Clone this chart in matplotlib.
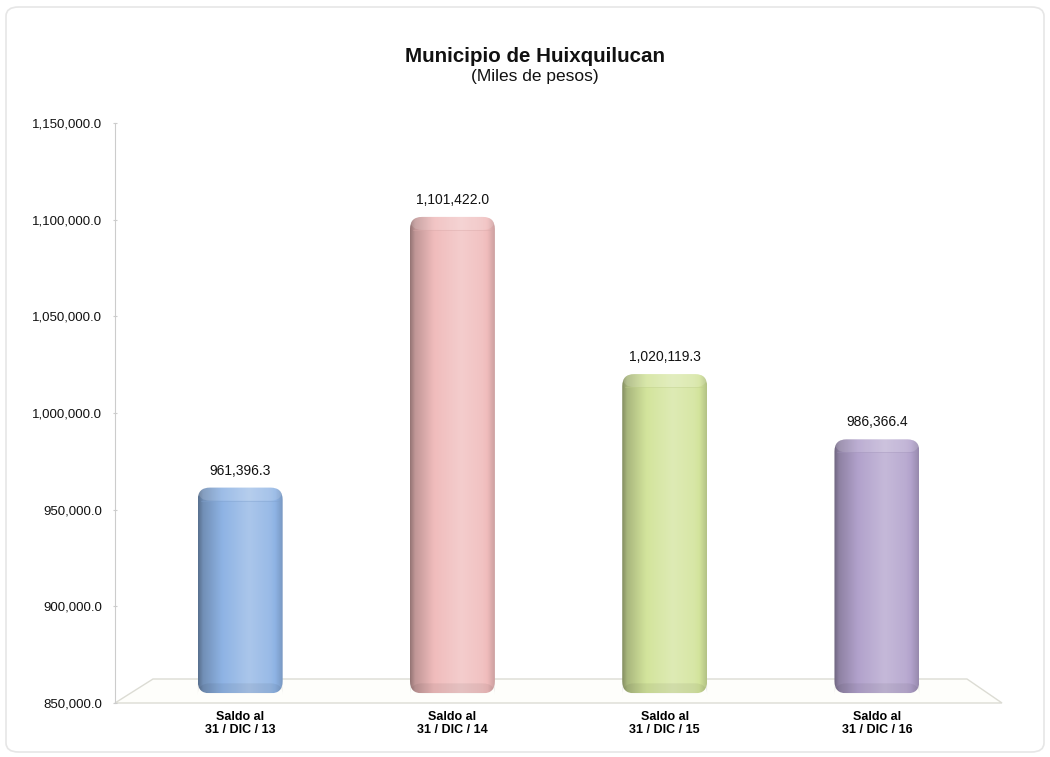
import numpy as np
import matplotlib
matplotlib.use('Agg')
from matplotlib import pyplot as plt
from matplotlib.patches import FancyBboxPatch, Polygon
from matplotlib.colors import to_rgb
from matplotlib.ticker import FuncFormatter

plt.rcParams['font.family'] = ['Liberation Sans', 'DejaVu Sans']

# data
categories = ['Saldo al\n31 / DIC / 13', 'Saldo al\n31 / DIC / 14',
              'Saldo al\n31 / DIC / 15', 'Saldo al\n31 / DIC / 16']
saldos = [961396.3, 1101422.0, 1020119.3, 986366.4]
bar_colors = ['#8eb3e4', '#f0bcbc', '#d3e49c', '#b2a2cc']
y_ticks = [850000, 900000, 950000, 1000000, 1050000, 1100000, 1150000]

Y_MIN, Y_MAX = 850000, 1150000
FLOOR = 855000  # where the cylinders stand on the 3d floor


def shade(color, f):
    c = np.array(to_rgb(color))
    if f < 0:
        return c * (1 + f)
    return c + (1 - c) * f


def cylinder_gradient(color, n=200):
    # horizontal shading: darker left edge, highlight right of centre
    t = np.linspace(0, 1, n)
    f = np.interp(t, [0, 0.06, 0.25, 0.6, 0.85, 1.0],
                  [-0.38, -0.2, -0.03, 0.25, 0.1, -0.15])
    return np.array([shade(color, v) for v in f])[np.newaxis, :, :]


fig = plt.figure(figsize=(10.5, 7.57), dpi=100)
ax = fig.add_axes([115 / 1050, 54 / 757, 885 / 1050, 580 / 757])

x = np.arange(len(categories))
bars = ax.bar(x, np.array(saldos) - FLOOR, bottom=FLOOR, width=0.4, visible=False)

ax.set_xlim(-0.59, 3.58)
ax.set_ylim(Y_MIN, Y_MAX)

# data units per pixel, to make round corners look round
y_per_px = (Y_MAX - Y_MIN) / 580
x_per_px = (3.58 + 0.59) / 885
aspect = y_per_px / x_per_px

# 3d floor
fx0, fx1 = ax.get_xlim()
floor_top = Y_MIN + 24 * y_per_px
floor = Polygon([(fx0, Y_MIN), (fx0 + 38 * x_per_px, floor_top),
                 (fx1 - 33 * x_per_px, floor_top), (fx1 + 2 * x_per_px, Y_MIN)],
                closed=True, facecolor='#fefefb', edgecolor='#dcdcd4', lw=1.0,
                zorder=1, clip_on=False)
ax.add_patch(floor)

for rect, color, val in zip(bars, bar_colors, saldos):
    x0, y0 = rect.get_x(), rect.get_y()
    w, h = rect.get_width(), rect.get_height()
    body = FancyBboxPatch((x0, y0), w, h,
                          boxstyle='round,pad=0,rounding_size=%f' % (12 * x_per_px),
                          mutation_aspect=aspect, facecolor='none',
                          edgecolor='none', zorder=2)
    ax.add_patch(body)
    img = ax.imshow(cylinder_gradient(color), extent=[x0, x0 + w, y0, y0 + h],
                    aspect='auto', zorder=3, interpolation='bilinear')
    img.set_clip_path(body)
    # top cap of the cylinder: light band with a soft lower edge
    cap = FancyBboxPatch((x0, y0 + h - 13 * y_per_px), w, 13 * y_per_px,
                         boxstyle='round,pad=0,rounding_size=%f' % (12 * x_per_px),
                         mutation_aspect=aspect, facecolor='white', alpha=0.14,
                         edgecolor='none', zorder=4)
    ax.add_patch(cap)
    ax.plot([x0 + 3 * x_per_px, x0 + w - 3 * x_per_px],
            [y0 + h - 13 * y_per_px] * 2, color=shade(color, -0.1), lw=0.7,
            alpha=0.4, zorder=4, solid_capstyle='round')
    # darker rounded base
    base = FancyBboxPatch((x0, y0), w, 10 * y_per_px,
                          boxstyle='round,pad=0,rounding_size=%f' % (12 * x_per_px),
                          mutation_aspect=aspect, facecolor='black', alpha=0.06,
                          edgecolor='none', zorder=4)
    ax.add_patch(base)
    ax.text(rect.get_x() + w / 2, val + 10 * y_per_px, '{:,.1f}'.format(val),
            ha='center', va='bottom', fontsize=10, color='#111111')

ax.set_yticks(y_ticks)
ax.yaxis.set_major_formatter(FuncFormatter(lambda v, p: '{:,.1f}'.format(v)))
ax.tick_params(axis='y', labelsize=9.5, length=3, color='#cccccc', direction='inout',
               pad=8, labelcolor='#111111')
ax.set_xticks(x)
ax.set_xticklabels(categories, fontsize=9, fontweight='bold', linespacing=1.05)
ax.tick_params(axis='x', length=0, pad=6)

for side in ['top', 'right', 'bottom']:
    ax.spines[side].set_visible(False)
ax.spines['left'].set_color('#cccccc')
ax.patch.set_alpha(0)

fig.text(535 / 1050, 1 - 57 / 757, 'Municipio de Huixquilucan', ha='center',
         va='center', fontsize=14.8, fontweight='bold', color='#111111')
fig.text(535 / 1050, 1 - 77 / 757, '(Miles de pesos)', ha='center',
         va='center', fontsize=12.5, color='#111111')

border = FancyBboxPatch((6 / 1050, 5 / 757), 1038 / 1050, 745 / 757,
                        boxstyle='round,pad=0,rounding_size=0.012',
                        transform=fig.transFigure, facecolor='none',
                        edgecolor='#e6e6e6', lw=1.2)
fig.patches.append(border)

fig.savefig('out.png', dpi=100)
